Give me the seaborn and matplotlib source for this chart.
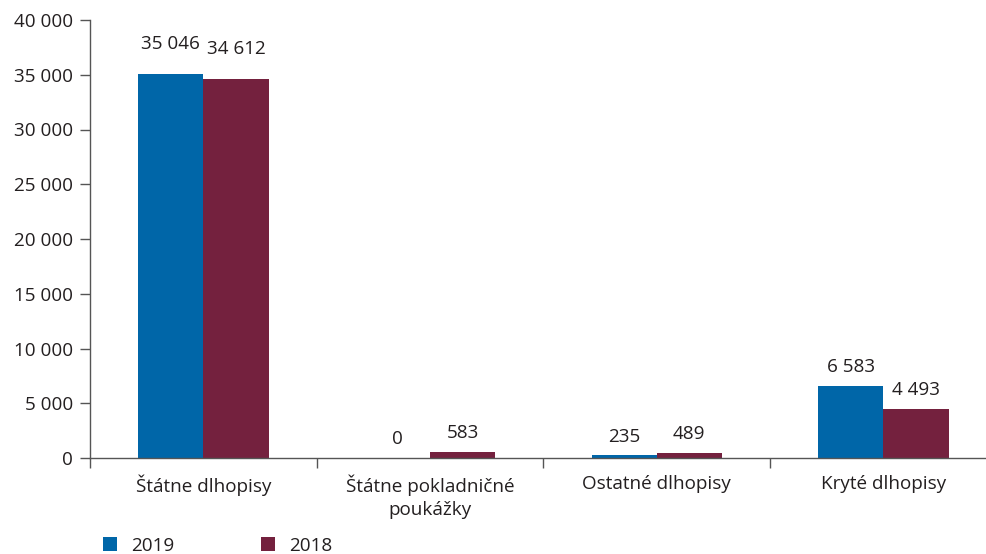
import matplotlib
matplotlib.use("Agg")
import matplotlib.pyplot as plt
import seaborn as sns
import pandas as pd
from matplotlib.patches import Patch
from matplotlib.ticker import FuncFormatter

categories = ["Štátne dlhopisy", "Štátne pokladničné\npoukážky", "Ostatné dlhopisy", "Kryté dlhopisy"]
values_2019 = [35046, 0, 235, 6583]
values_2018 = [34612, 583, 489, 4493]
series = ["2019", "2018"]
colors = ["#0066a8", "#74213e"]

df = pd.DataFrame({
    "kategoria": categories * 2,
    "rok": [series[0]] * 4 + [series[1]] * 4,
    "hodnota": values_2019 + values_2018,
})

sns.set_theme(style="white")
plt.rcParams["font.family"] = ["Open Sans", "DejaVu Sans"]
txt = "#231f20"
fs = 13.6

fig = plt.figure(figsize=(9.87, 5.54), dpi=100)
ax = fig.add_axes([90 / 987, 1 - 458 / 554, 906.7 / 987, 438 / 554])

sns.barplot(data=df, x="kategoria", y="hodnota", hue="rok", palette=colors,
            width=0.575, saturation=1, ax=ax, legend=False, linewidth=0)

def fmt(v):
    return f"{int(round(v)):,}".replace(",", " ")

ax.set_ylim(0, 40000)
ax.set_xlim(-0.5, 3.5)
ax.set_yticks(range(0, 40001, 5000))
ax.yaxis.set_major_formatter(FuncFormatter(lambda v, p: fmt(v)))
ax.set_xlabel("")
ax.set_ylabel("")

for s in ["top", "right"]:
    ax.spines[s].set_visible(False)
for s in ["left", "bottom"]:
    ax.spines[s].set_color("#555555")
    ax.spines[s].set_linewidth(1.0)

ax.tick_params(axis="y", which="major", left=True, length=7, width=1, color="#555555",
               labelsize=fs, labelcolor=txt, pad=5)
ax.set_xticks([0, 1, 2, 3])
ax.set_xticklabels(categories, fontsize=fs, color=txt, linespacing=1.35)
ax.tick_params(axis="x", which="major", bottom=False, pad=6)
ax.set_xticks([0.5, 1.5, 2.5, 3.5, -0.5], minor=True)
ax.tick_params(axis="x", which="minor", bottom=True, length=7, width=1, color="#555555")

for i, cont in enumerate(ax.containers):
    labels = [fmt(b.get_height()) for b in cont]
    ax.bar_label(cont, labels=labels, padding=7, fontsize=fs, color=txt)

# lift the first group's labels a bit, as in the reference
for t in ax.texts:
    if t.get_text() in (fmt(values_2019[0]), fmt(values_2018[0])):
        x, y = t.xyann
        t.xyann = (x, y + 8)

handles = [Patch(facecolor=c, edgecolor="none") for c in colors]
fig.legend(handles, series, loc="lower left", bbox_to_anchor=(86 / 987, -0.032), ncol=2,
           frameon=False, fontsize=fs, handlelength=0.75, handleheight=0.75,
           handletextpad=0.75, columnspacing=4.55, labelcolor=txt)

fig.savefig("out.png", dpi=100)
